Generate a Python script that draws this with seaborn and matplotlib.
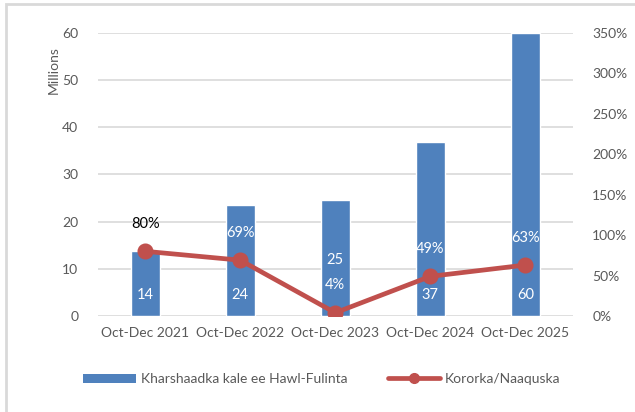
import numpy as np
import pandas as pd
import matplotlib
matplotlib.use("Agg")
import matplotlib.pyplot as plt
import seaborn as sns
from matplotlib.lines import Line2D
from matplotlib.patches import Patch, Rectangle

# --- data ---
periods = ["Oct-Dec 2021", "Oct-Dec 2022", "Oct-Dec 2023", "Oct-Dec 2024", "Oct-Dec 2025"]
revenue_m = [13.8, 23.5, 24.6, 36.8, 60.0]
revenue_labels = ["14", "24", "25", "37", "60"]
growth_pct = [80, 69, 4, 49, 63]

bar_name = "Kharshaadka kale ee Hawl-Fulinta"
line_name = "Kororka/Naaquska"

blue = "#4F81BD"
red = "#C0504D"
grid_c = "#D9D9D9"
txt_c = "#595959"

sns.set_theme(style="white")
plt.rcParams["font.family"] = ["Lato", "DejaVu Sans"]

df = pd.DataFrame({"period": periods, "revenue": revenue_m, "growth": growth_pct})

fig = plt.figure(figsize=(6.35, 4.12), dpi=100)
ax = fig.add_axes([0.154, 0.233, 0.748, 0.687])

sns.barplot(data=df, x="period", y="revenue", color=blue, width=0.31,
            saturation=1, ax=ax, zorder=2)
ax.set_ylim(0, 60)
ax.set_yticks(range(0, 61, 10))
ax.set_xlim(-0.5, 4.5)
ax.grid(axis="y", color=grid_c, linewidth=1.2, zorder=0)
ax.set_axisbelow(True)
for s in ax.spines.values():
    s.set_visible(False)
ax.set_xlabel("")
ax.set_ylabel("")
ax.tick_params(axis="both", length=0, labelsize=10, labelcolor=txt_c)
ax.tick_params(axis="x", pad=8)
ax.tick_params(axis="y", pad=14)
ax.text(-0.093, 0.87, "Millions", transform=ax.transAxes, rotation=90,
        ha="center", va="center", fontsize=10, color=txt_c)

ax2 = ax.twinx()
sns.pointplot(data=df, x="period", y="growth", color=red, markers="o",
              linewidth=3.4, markersize=9, ax=ax2, zorder=4)
ax2.set_ylim(0, 350)
ax2.set_yticks(range(0, 351, 50))
ax2.set_yticklabels([f"{v}%" for v in range(0, 351, 50)])
ax2.set_xlim(-0.5, 4.5)
ax2.set_ylabel("")
for s in ax2.spines.values():
    s.set_visible(False)
ax2.tick_params(axis="y", length=0, labelsize=10, labelcolor=txt_c, pad=14)
ax2.grid(False)

# data labels
for i, (v, lab) in enumerate(zip(revenue_m, revenue_labels)):
    y = 4.5 if i != 2 else 11.9
    ax.text(i, y, lab, ha="center", va="center", color="white", fontsize=10.5, zorder=5)
for i, g in enumerate(growth_pct):
    col = "black" if i == 0 else "white"
    ax2.text(i, g + 34, f"{g}%", ha="center", va="center", color=col, fontsize=10.5, zorder=5)

# legend
handles = [Patch(facecolor=blue, edgecolor="none"),
           Line2D([0], [0], color=red, linewidth=3.4, marker="o", markersize=7)]
fig.legend(handles, [bar_name, line_name], loc="center", bbox_to_anchor=(0.507, 0.08),
           ncol=2, frameon=False, fontsize=10, handlelength=3.8, handleheight=0.6,
           columnspacing=2.9, handletextpad=0.35, labelcolor=txt_c)

# outer frame
fig.patches.append(Rectangle((0.009, -0.01), 1.2, 1.0, transform=fig.transFigure,
                             fill=False, edgecolor=grid_c, linewidth=2))

fig.savefig("out.png", dpi=100)
